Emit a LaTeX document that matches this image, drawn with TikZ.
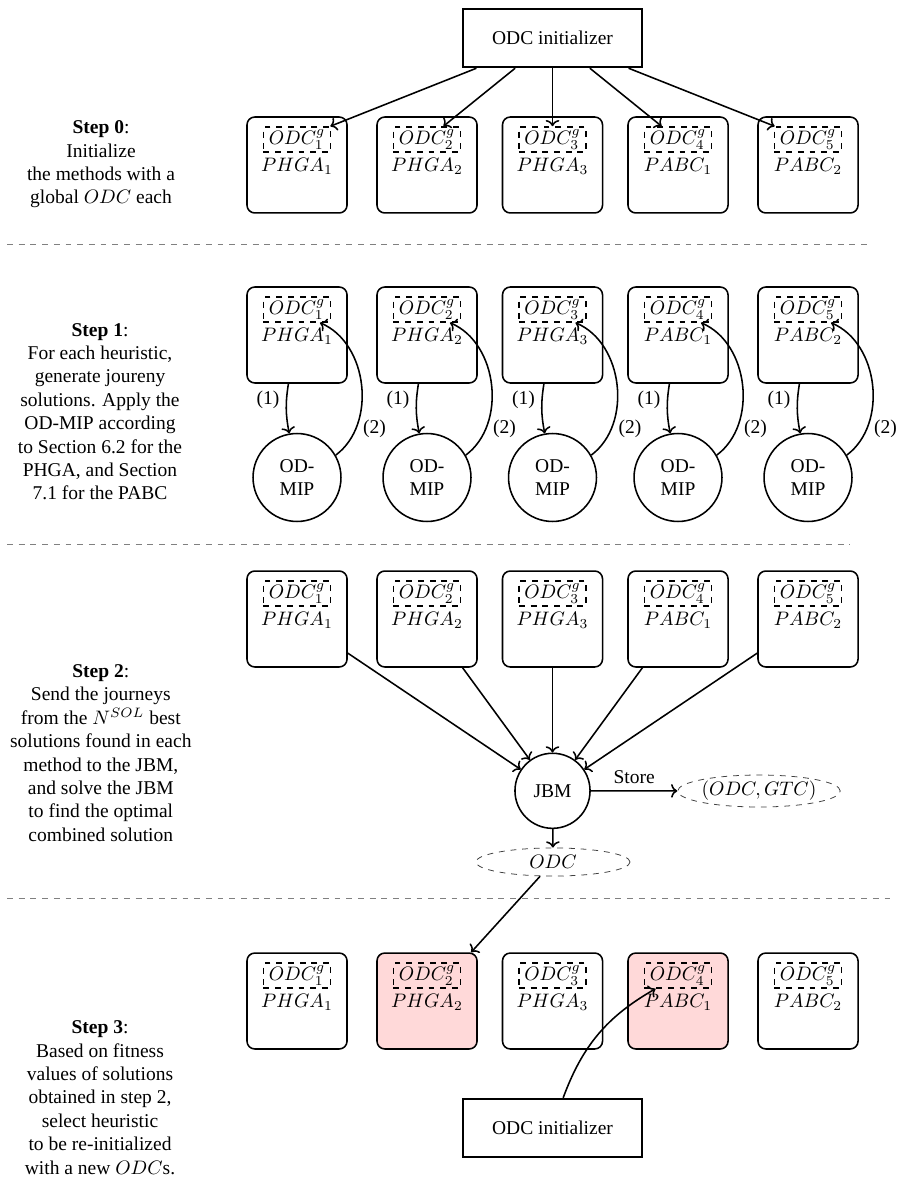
\documentclass[tikz,border=0pt]{standalone}
\usepackage[no-math]{fontspec}
\setmainfont{Liberation Serif}
\usetikzlibrary{shapes.geometric,arrows.meta}

% One heuristic block: rounded frame, dashed ODC slot and method label
% #1 extra frame style, #2 name, #3 x, #4 top edge (downwards), #5 index, #6 label
\newcommand\heurblock[6][]{%
  \node[hframe,#1] (#2) at (#3,-#4-48) {};
  \node[odcslot] (#2o) at (#3,-#4-22.5) {$ODC^g_{#5}$};
  \node[hlabel] (#2l) at (#3,-#4-49) {$#6$};
}

\tikzset{
  hframe/.style={draw, thick, rounded corners=4pt, minimum width=51.3pt, minimum height=49.2pt, inner sep=0pt},
  odcslot/.style={draw, thick, dashed, inner sep=0pt, minimum width=34.4pt, minimum height=12.8pt},
  hlabel/.style={inner sep=0pt},
  initbox/.style={draw, line width=1.3pt, minimum width=91.8pt, minimum height=29.7pt, inner sep=0pt},
  mip/.style={draw, thick, circle, minimum size=45.1pt, inner sep=0pt, align=center},
  jbmnode/.style={draw, thick, circle, minimum size=38.5pt, inner sep=0pt},
  result/.style={draw=black!75, thin, dashed, ellipse, inner sep=0pt},
  steptext/.style={align=center, inner sep=0pt},
  arr/.style={-{To[length=3.2pt,width=7pt]}, thick},
  sepline/.style={draw=gray, thin, dashed},
  chosen/.style={fill=red!15},
}

\begin{document}
\begin{tikzpicture}[x=0.5128pt, y=0.5128pt]
\useasboundingbox (0,0) rectangle (900,-1178);

% ---------- Step 0 ----------
\node[initbox] (init) at (552.5,-38) {ODC initializer};
\node[steptext] (t0) at (101,-164.5) {\textbf{Step 0}:\\Initialize\\the methods with a\\global $ODC$ each};
\heurblock{a1}{297}{117}{1}{PHGA_1}
\heurblock{a2}{427}{117}{2}{PHGA_2}
\heurblock{a3}{552.5}{117}{3}{PHGA_3}
\heurblock{a4}{678}{117}{4}{PABC_1}
\heurblock{a5}{808}{117}{5}{PABC_2}
\foreach \i in {1,...,5} \draw[arr] (init) -- (a\i o);

\draw[sepline] (7,-244) -- (871,-244);

% ---------- Step 1 ----------
\node[steptext] (t1) at (100,-411.7) {\textbf{Step 1}:\\For each heuristic,\\generate joureny\\solutions. Apply the\\OD-MIP according\\to Section 6.2 for the\\PHGA, and Section\\7.1 for the PABC};
\heurblock{b1}{297}{287}{1}{PHGA_1}
\heurblock{b2}{427}{287}{2}{PHGA_2}
\heurblock{b3}{552.5}{287}{3}{PHGA_3}
\heurblock{b4}{678}{287}{4}{PABC_1}
\heurblock{b5}{808}{287}{5}{PABC_2}
\foreach \i/\x in {1/297,2/427,3/552.5,4/678,5/808} {
  \node[mip] (m\i) at (\x,-477.5) {OD-\\MIP};
  \draw[arr] (b\i) to[bend right=10] node[left, pos=0.3] {(1)} (m\i);
  \draw[arr] (m\i) to[bend right=60] node[right, pos=0.22] {(2)} (b\i o);
}

\draw[sepline] (7,-544) -- (850,-544);

% ---------- Step 2 ----------
\node[steptext] (t2) at (100.8,-753) {\textbf{Step 2}:\\Send the journeys\\from the $N^{SOL}$ best\\solutions found in each\\method to the JBM,\\and solve the JBM\\to find the optimal\\combined solution};
\heurblock{c1}{297}{571}{1}{PHGA_1}
\heurblock{c2}{427}{571}{2}{PHGA_2}
\heurblock{c3}{552.5}{571}{3}{PHGA_3}
\heurblock{c4}{678}{571}{4}{PABC_1}
\heurblock{c5}{808}{571}{5}{PABC_2}
\node[jbmnode] (jbm) at (552.5,-790.8) {JBM};
\foreach \i in {1,...,5} \draw[arr] (c\i) -- (jbm);
\node[result, minimum width=79.5pt, minimum height=16.4pt] (gtc) at (759,-791) {$(ODC,GTC)$};
\node[result, minimum width=79pt, minimum height=14.4pt] (odc) at (553,-862) {$ODC$};
\draw[arr] (jbm) -- node[above] {Store} (gtc);
\draw[arr] (jbm) -- (odc);

\draw[sepline] (7,-898) -- (895,-898);

% ---------- Step 3 ----------
\node[steptext] (t3) at (100,-1097.5) {\textbf{Step 3}:\\Based on fitness\\values of solutions\\obtained in step 2,\\select heuristic\\to be re-initialized\\with a new $ODC$s.};
\heurblock{d1}{297}{953}{1}{PHGA_1}
\heurblock[chosen]{d2}{427}{953}{2}{PHGA_2}
\heurblock{d3}{552.5}{953}{3}{PHGA_3}
\heurblock[chosen]{d4}{678}{953}{4}{PABC_1}
\heurblock{d5}{808}{953}{5}{PABC_2}
\node[initbox] (init2) at (552.5,-1128) {ODC initializer};
\draw[arr] (odc) -- (d2);
\draw[arr] (init2) to[bend left=20] (d4o);
\end{tikzpicture}
\end{document}
